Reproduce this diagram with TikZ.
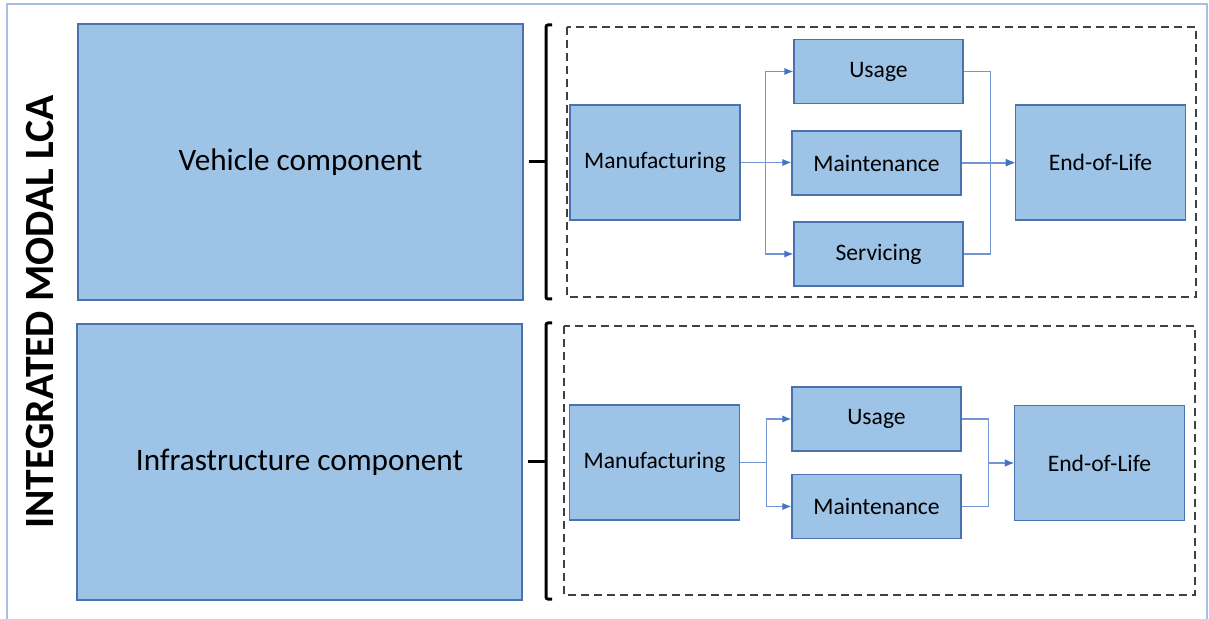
\documentclass[tikz,border=0pt]{standalone}
\usepackage{fontspec}
\setmainfont{Carlito}
\usepackage{tikz}
\usetikzlibrary{shapes,arrows,arrows.meta}
\usetikzlibrary{positioning}
\usetikzlibrary{calc}
\definecolor{boxfill}{HTML}{9DC3E6}
\definecolor{boxline}{HTML}{4A72AE}
\definecolor{flowcol}{HTML}{4472C4}
\definecolor{framecol}{HTML}{A9BEE4}
\definecolor{dashcol}{HTML}{404040}
\tikzstyle{bigblock} = [draw=boxline, fill=boxfill, rectangle, line width=0.6pt, minimum width=222.5pt, minimum height=138pt, inner sep=0pt, font=\fontsize{15.6}{18}\selectfont]
\tikzstyle{block} = [draw=boxline, fill=boxfill, rectangle, line width=0.6pt, minimum width=85pt, minimum height=57.5pt, inner sep=0pt, font=\fontsize{11.8}{14}\selectfont]
\tikzstyle{phase} = [block, minimum width=84.5pt, minimum height=32pt]
\tikzstyle{flow} = [draw=flowcol!75, line width=0.6pt, -{Latex[length=4.5pt,width=3.6pt,color=flowcol]}]
\tikzstyle{brace} = [draw=black, line width=1.5pt, rounded corners=1pt]
\tikzstyle{group} = [draw=dashcol, line width=0.7pt, dash pattern=on 4pt off 2.5pt]
\tikzstyle{io} = [coordinate]

\begin{document}
\begin{tikzpicture}[x=0.5pt, y=-0.5pt]
\useasboundingbox (0,0) rectangle (1209,619);
% Frame
\draw [framecol, line width=0.6pt] (7,619) -- (7,4) -- (1207,4) -- (1207,619);

% Title
\node [rotate=90, font=\bfseries\fontsize{20.8}{24}\selectfont] (title) at (40,312) {INTEGRATED MODAL LCA};

% Components
\node [bigblock] (veh) at (300.5,162) {Vehicle component};
\node [bigblock] (infra) at (299.5,462) {Infrastructure component};

% Braces
\node [io] (vbrace) at (546,162) {};
\node [io] (ibrace) at (546,462) {};
\draw [brace] (552,25) -- (546,25) -- (546,299) -- (552,299);
\draw [brace] (552,323) -- (546,323) -- (546,599) -- (552,599);
\draw [brace] (veh.east) ++(5,0) -- (vbrace);
\draw [brace] (infra.east) ++(5,0) -- (ibrace);

% Vehicle life cycle
\draw [group] (567,27) rectangle (1196,297);
\node [block] (man1) at (655,162.5) {Manufacturing};
\node [phase] (use1) at (878.5,71.5) {Usage};
\node [phase] (mnt1) at (876.5,163) {Maintenance};
\node [phase] (ser1) at (878.5,254) {Servicing};
\node [block] (eol1) at (1100.5,162.5) {End-of-Life};

\draw [flow] (man1.east) -- ++(25,0) |- (use1.west);
\draw [flow] (man1.east) -- (man1.east -| mnt1.west);
\draw [flow] (man1.east) -- ++(25,0) |- (ser1.west);
\draw [flow] (use1.east) -- ++(27,0) |- (eol1.west);
\draw [flow] (ser1.east) -- ++(27,0) |- (eol1.west);
\draw [flow] (mnt1.east) -- (mnt1.east -| eol1.west);

% Infrastructure life cycle
\draw [group] (564,326) rectangle (1195,595);
\node [block] (man2) at (654.5,462.5) {Manufacturing};
\node [phase] (use2) at (876.5,419) {Usage};
\node [phase, below=43.75pt of use2.center, anchor=center] (mnt2) {Maintenance};
\node [block] (eol2) at (1099.5,463) {End-of-Life};

\draw [flow] (man2.east) -- ++(26,0) |- (use2.west);
\draw [flow] (man2.east) -- ++(26,0) |- (mnt2.west);
\draw [flow] (use2.east) -- ++(27,0) |- (eol2.west);
\draw [flow] (mnt2.east) -- ++(27,0) |- (eol2.west);
\end{tikzpicture}
\end{document}
